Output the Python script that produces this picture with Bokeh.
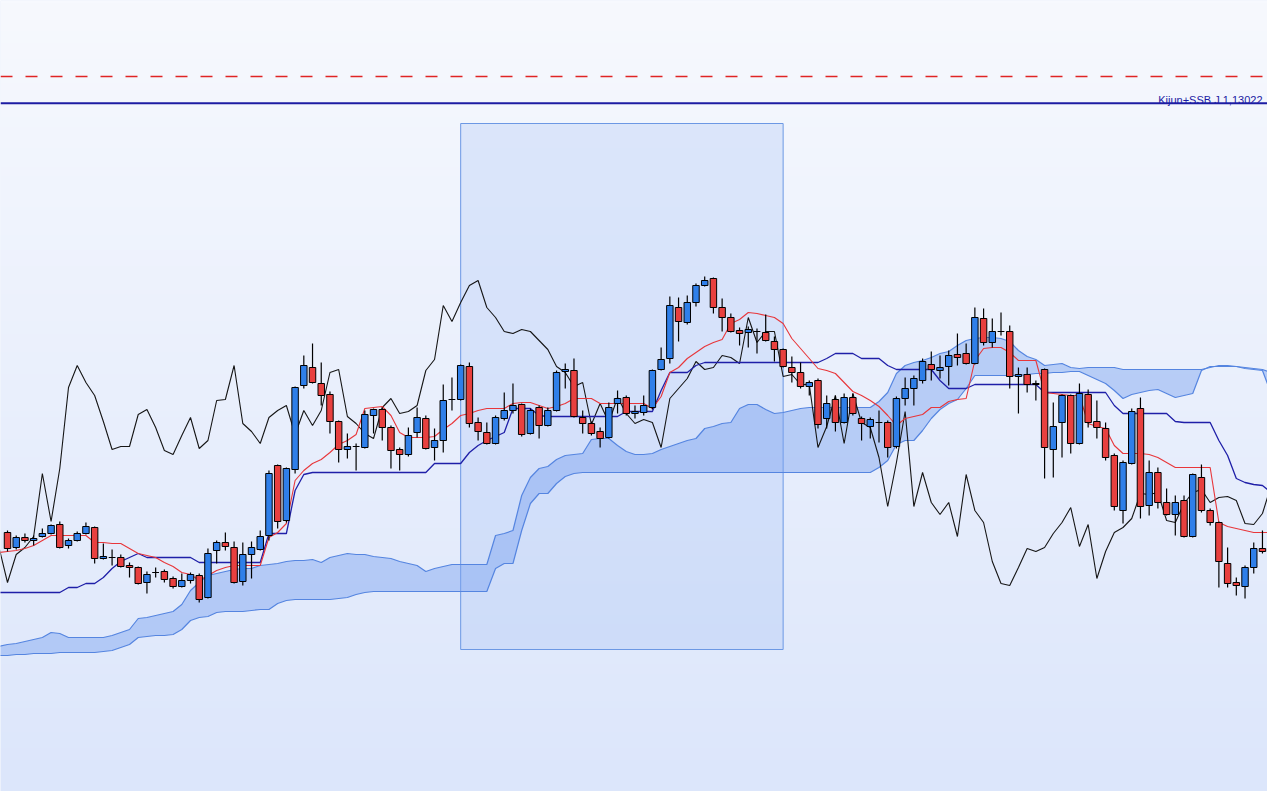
import numpy as np
from bokeh.plotting import figure
from bokeh.models import Range1d, Span, Label
from bokeh.embed import file_html
from bokeh.resources import INLINE

# ---------------- data (prices) ----------------
opens = [
    1.0873, 1.0858, 1.0868, 1.0865, 1.0869, 1.0872, 1.0881, 1.0860, 1.0865, 1.0872,
    1.0878, 1.0847, 1.0848, 1.0848, 1.0840, 1.0838, 1.0823, 1.0833, 1.0834, 1.0827,
    1.0819, 1.0825, 1.0830, 1.0808, 1.0855, 1.0863, 1.0858, 1.0824, 1.0851, 1.0856,
    1.0870, 1.0940, 1.0885, 1.0936, 1.1020, 1.1038, 1.1022, 1.1011, 1.0984, 1.0956,
    1.0959, 1.0958, 1.0990, 1.0996, 1.0978, 1.0956, 1.0951, 1.0973, 1.0987, 1.0958,
    1.0965, 1.1006, 1.1006, 1.1039, 1.0983, 1.0973, 1.0962, 1.0987, 1.0995, 1.1001,
    1.0972, 1.0998, 1.0980, 1.0995, 1.1034, 1.1035, 1.0988, 1.0982, 1.0974, 1.0968,
    1.1002, 1.1008, 1.0992, 1.0993, 1.0998, 1.1036, 1.1047, 1.1098, 1.1083, 1.1103,
    1.1120, 1.1127, 1.1098, 1.1088, 1.1075, 1.1073, 1.1074, 1.1073, 1.1064, 1.1056,
    1.1038, 1.1033, 1.1019, 1.1025, 1.0987, 1.1006, 1.0983, 1.1008, 1.0987, 1.0979,
    1.0983, 1.0983, 1.0959, 1.1007, 1.1017, 1.1025, 1.1041, 1.1035, 1.1039, 1.1051,
    1.1052, 1.1042, 1.1087, 1.1063, 1.1074, 1.1074, 1.1029, 1.1031, 1.1022, 1.1036,
    1.0956, 1.0983, 1.1010, 1.0962, 1.1011, 1.0984, 1.0977, 1.0950, 1.0895, 1.0942,
    1.0997, 1.0900, 1.0933, 1.0903, 1.0891, 1.0905, 1.0869, 1.0928, 1.0895, 1.0883,
    1.0842, 1.0823, 1.0819, 1.0838, 1.0857,
]
highs = [
    1.0875, 1.0870, 1.0872, 1.0870, 1.0877, 1.0881, 1.0884, 1.0867, 1.0874, 1.0883,
    1.0879, 1.0862, 1.0856, 1.0851, 1.0843, 1.0839, 1.0834, 1.0838, 1.0836, 1.0829,
    1.0832, 1.0833, 1.0832, 1.0857, 1.0865, 1.0873, 1.0864, 1.0863, 1.0864, 1.0875,
    1.0935, 1.0941, 1.0938, 1.1019, 1.1050, 1.1062, 1.1043, 1.1014, 1.0985, 1.0972,
    1.0962, 1.0995, 1.0997, 1.0998, 1.0980, 1.0958, 1.0978, 1.0998, 1.0990, 1.0977,
    1.1021, 1.1028, 1.1041, 1.1043, 1.0988, 1.0983, 1.0990, 1.1013, 1.1022, 1.1002,
    1.0997, 1.1000, 1.0998, 1.1035, 1.1042, 1.1047, 1.0995, 1.0984, 1.0978, 1.1003,
    1.1015, 1.1010, 1.1000, 1.1010, 1.1036, 1.1058, 1.1109, 1.1108, 1.1110, 1.1122,
    1.1129, 1.1128, 1.1107, 1.1092, 1.1078, 1.1079, 1.1077, 1.1091, 1.1069, 1.1057,
    1.1049, 1.1043, 1.1025, 1.1027, 1.1010, 1.1010, 1.1012, 1.1012, 1.0989, 1.0988,
    1.0995, 1.0985, 1.1009, 1.1028, 1.1030, 1.1047, 1.1054, 1.1050, 1.1055, 1.1072,
    1.1062, 1.1098, 1.1097, 1.1087, 1.1093, 1.1080, 1.1038, 1.1038, 1.1025, 1.1037,
    1.1003, 1.1011, 1.1011, 1.1022, 1.1016, 1.1005, 1.0983, 1.0952, 1.0945, 1.0997,
    1.1008, 1.0945, 1.0938, 1.0917, 1.0910, 1.0910, 1.0932, 1.0941, 1.0897, 1.0884,
    1.0858, 1.0828, 1.0840, 1.0863, 1.0875,
]
lows = [
    1.0854, 1.0856, 1.0863, 1.0860, 1.0868, 1.0871, 1.0857, 1.0857, 1.0864, 1.0871,
    1.0842, 1.0846, 1.0840, 1.0838, 1.0828, 1.0821, 1.0812, 1.0828, 1.0823, 1.0817,
    1.0818, 1.0822, 1.0803, 1.0807, 1.0842, 1.0855, 1.0822, 1.0820, 1.0827, 1.0855,
    1.0865, 1.0877, 1.0883, 1.0932, 1.1017, 1.1022, 1.1000, 1.0972, 1.0943, 1.0947,
    1.0935, 1.0957, 1.0972, 1.0965, 1.0937, 1.0935, 1.0949, 1.0968, 1.0956, 1.0945,
    1.0953, 1.0995, 1.1005, 1.0978, 1.0965, 1.0961, 1.0961, 1.0985, 1.0992, 1.0969,
    1.0971, 1.0967, 1.0979, 1.0994, 1.1017, 1.0988, 1.0972, 1.0970, 1.0958, 1.0967,
    1.0992, 1.0990, 1.0987, 1.0990, 1.0996, 1.1035, 1.1042, 1.1064, 1.1081, 1.1099,
    1.1119, 1.1092, 1.1074, 1.1073, 1.1060, 1.1058, 1.1052, 1.1064, 1.1044, 1.1038,
    1.1023, 1.1017, 1.1010, 1.0977, 1.0977, 1.0974, 1.0982, 1.0990, 1.0965, 1.0967,
    1.0963, 1.0948, 1.0957, 1.1000, 1.1000, 1.1022, 1.1025, 1.1027, 1.1020, 1.1040,
    1.1041, 1.1041, 1.1060, 1.1058, 1.1070, 1.1017, 1.0992, 1.1013, 1.1005, 1.0927,
    1.0928, 1.0948, 1.0952, 1.0961, 1.0978, 1.0967, 1.0945, 1.0895, 1.0882, 1.0941,
    1.0887, 1.0890, 1.0897, 1.0890, 1.0870, 1.0868, 1.0868, 1.0893, 1.0880, 1.0818,
    1.0818, 1.0810, 1.0807, 1.0832, 1.0852,
]
closes = [
    1.0857, 1.0868, 1.0865, 1.0867, 1.0872, 1.0880, 1.0858, 1.0865, 1.0872, 1.0879,
    1.0847, 1.0849, 1.0848, 1.0839, 1.0838, 1.0822, 1.0831, 1.0833, 1.0826, 1.0819,
    1.0825, 1.0831, 1.0806, 1.0852, 1.0863, 1.0859, 1.0823, 1.0851, 1.0858, 1.0869,
    1.0932, 1.0884, 1.0937, 1.1018, 1.1040, 1.1023, 1.1010, 1.0984, 1.0956, 1.0959,
    1.0959, 1.0991, 1.0996, 1.0978, 1.0955, 1.0951, 1.0970, 1.0988, 1.0957, 1.0965,
    1.1005, 1.1006, 1.1040, 1.0982, 1.0974, 1.0962, 1.0988, 1.0995, 1.1000, 1.0971,
    1.0995, 1.0980, 1.0995, 1.1033, 1.1036, 1.0989, 1.0982, 1.0972, 1.0967, 1.0998,
    1.1007, 1.0992, 1.0994, 1.1000, 1.1035, 1.1046, 1.1100, 1.1084, 1.1103, 1.1120,
    1.1125, 1.1098, 1.1088, 1.1074, 1.1072, 1.1076, 1.1074, 1.1065, 1.1056, 1.1039,
    1.1033, 1.1019, 1.1023, 1.0981, 1.1002, 1.0983, 1.1008, 1.0992, 1.0982, 1.0986,
    1.0983, 1.0958, 1.1007, 1.1017, 1.1027, 1.1044, 1.1036, 1.1038, 1.1050, 1.1048,
    1.1042, 1.1088, 1.1063, 1.1074, 1.1074, 1.1029, 1.1031, 1.1021, 1.1021, 1.0958,
    1.0979, 1.1010, 1.0962, 1.1012, 1.0983, 1.0978, 1.0948, 1.0899, 1.0943, 1.0994,
    1.0899, 1.0933, 1.0903, 1.0891, 1.0903, 1.0869, 1.0931, 1.0895, 1.0883, 1.0844,
    1.0822, 1.0820, 1.0838, 1.0857, 1.0854,
]
# indicator lines: first value sits one bar left of the first candle (chart edge)
tenkan = [
    1.0853,
    1.0854, 1.0855, 1.0857, 1.0860, 1.0865, 1.0870, 1.0870, 1.0870, 1.0870, 1.0870,
    1.0863, 1.0863, 1.0862, 1.0862, 1.0857, 1.0852, 1.0850, 1.0848, 1.0843, 1.0839,
    1.0833, 1.0831, 1.0825, 1.0830, 1.0835, 1.0838, 1.0840, 1.0840, 1.0840, 1.0840,
    1.0868, 1.0873, 1.0882, 1.0925, 1.0935, 1.0942, 1.0946, 1.0953, 1.0961, 1.0965,
    1.0971, 1.0997, 1.0998, 1.0999, 1.0990, 1.0973, 1.0968, 1.0968, 1.0968, 1.0969,
    1.0976, 1.0982, 1.0990, 1.0992, 1.0995, 1.0997, 1.0997, 1.0997, 1.1002, 1.1003,
    1.1003, 1.1000, 1.0997, 1.0999, 1.1002, 1.1007, 1.1007, 1.1007, 1.1002, 1.1002,
    1.1002, 1.1002, 1.1002, 1.1002, 1.0997, 1.1009, 1.1033, 1.1038, 1.1047, 1.1053,
    1.1059, 1.1063, 1.1066, 1.1082, 1.1086, 1.1093, 1.1092, 1.1090, 1.1088, 1.1082,
    1.1067, 1.1057, 1.1047, 1.1037, 1.1035, 1.1032, 1.1023, 1.1014, 1.1010, 1.1005,
    1.0999, 1.0990, 1.0980, 1.0987, 1.0989, 1.0991, 1.0998, 1.0998, 1.1004, 1.1006,
    1.1007, 1.1045, 1.1057, 1.1058, 1.1058, 1.1053, 1.1045, 1.1045, 1.1045, 1.1013,
    1.1012, 1.1011, 1.1010, 1.1010, 1.0982, 1.0979, 1.0977, 1.0960, 1.0952, 1.0952,
    1.0952, 1.0951, 1.0948, 1.0943, 1.0938, 1.0938, 1.0938, 1.0938, 1.0938, 1.0883,
    1.0879, 1.0877, 1.0875, 1.0873, 1.0873, 1.0873,
]
kijun = [
    1.0813,
    1.0813, 1.0813, 1.0813, 1.0813, 1.0813, 1.0813, 1.0813, 1.0818, 1.0818, 1.0822,
    1.0822, 1.0828, 1.0837, 1.0844, 1.0848, 1.0852, 1.0848, 1.0848, 1.0848, 1.0848,
    1.0848, 1.0848, 1.0843, 1.0843, 1.0843, 1.0843, 1.0843, 1.0843, 1.0843, 1.0843,
    1.0872, 1.0872, 1.0872, 1.0915, 1.0931, 1.0933, 1.0933, 1.0933, 1.0933, 1.0933,
    1.0933, 1.0933, 1.0933, 1.0933, 1.0933, 1.0933, 1.0933, 1.0933, 1.0933, 1.0942,
    1.0942, 1.0942, 1.0942, 1.0953, 1.0960, 1.0965, 1.0969, 1.0973, 1.0997, 1.0997,
    1.0997, 1.0990, 1.0989, 1.0989, 1.0989, 1.0989, 1.0989, 1.0989, 1.0989, 1.0989,
    1.0989, 1.0994, 1.0994, 1.0994, 1.0994, 1.1015, 1.1033, 1.1033, 1.1033, 1.1040,
    1.1043, 1.1043, 1.1043, 1.1043, 1.1043, 1.1043, 1.1043, 1.1043, 1.1043, 1.1043,
    1.1043, 1.1043, 1.1043, 1.1043, 1.1047, 1.1052, 1.1052, 1.1052, 1.1047, 1.1047,
    1.1047, 1.1040, 1.1036, 1.1036, 1.1036, 1.1036, 1.1036, 1.1025, 1.1017, 1.1017,
    1.1017, 1.1021, 1.1021, 1.1021, 1.1021, 1.1021, 1.1021, 1.1021, 1.1021, 1.1013,
    1.1013, 1.1013, 1.1013, 1.1013, 1.1013, 1.1013, 1.1013, 1.1000, 1.0992, 1.0992,
    1.0992, 1.0992, 1.0992, 1.0992, 1.0984, 1.0983, 1.0983, 1.0983, 1.0983, 1.0965,
    1.0950, 1.0927, 1.0923, 1.0921, 1.0920, 1.0913,
]
span_a = [
    1.0759,
    1.0761, 1.0762, 1.0764, 1.0766, 1.0768, 1.0773, 1.0772, 1.0768, 1.0768, 1.0768,
    1.0768, 1.0768, 1.0770, 1.0773, 1.0776, 1.0787, 1.0788, 1.0790, 1.0792, 1.0794,
    1.0801, 1.0815, 1.0823, 1.0830, 1.0832, 1.0834, 1.0836, 1.0837, 1.0837, 1.0840,
    1.0841, 1.0842, 1.0844, 1.0845, 1.0845, 1.0846, 1.0843, 1.0848, 1.0850, 1.0852,
    1.0851, 1.0851, 1.0849, 1.0848, 1.0847, 1.0844, 1.0842, 1.0840, 1.0834, 1.0837,
    1.0839, 1.0841, 1.0841, 1.0841, 1.0841, 1.0841, 1.0870, 1.0872, 1.0875, 1.0910,
    1.0928, 1.0937, 1.0939, 1.0946, 1.0950, 1.0951, 1.0952, 1.0966, 1.0967, 1.0967,
    1.0960, 1.0954, 1.0951, 1.0951, 1.0952, 1.0956, 1.0959, 1.0962, 1.0965, 1.0967,
    1.0977, 1.0979, 1.0982, 1.0983, 1.0997, 1.1001, 1.1001, 1.0996, 1.0992, 1.0993,
    1.0995, 1.0997, 1.0998, 1.0998, 1.0998, 1.0998, 1.0998, 1.0998, 1.0998, 1.0998,
    1.1004, 1.1013, 1.1032, 1.1040, 1.1043, 1.1045, 1.1048, 1.1052, 1.1054, 1.1060,
    1.1065, 1.1067, 1.1068, 1.1068, 1.1067, 1.1064, 1.1055, 1.1049, 1.1046, 1.1040,
    1.1041, 1.1042, 1.1038, 1.1037, 1.1038, 1.1038, 1.1038, 1.1038, 1.1036, 1.1036,
    1.1036, 1.1036, 1.1036, 1.1036, 1.1036, 1.1036, 1.1036, 1.1036, 1.1038, 1.1040,
    1.1040, 1.1039, 1.1037, 1.1036, 1.1035, 1.1012,
]
span_b = [
    1.0750,
    1.0750, 1.0751, 1.0751, 1.0752, 1.0752, 1.0752, 1.0753, 1.0753, 1.0753, 1.0753,
    1.0753, 1.0754, 1.0755, 1.0758, 1.0761, 1.0768, 1.0769, 1.0770, 1.0770, 1.0771,
    1.0776, 1.0785, 1.0788, 1.0789, 1.0793, 1.0794, 1.0794, 1.0794, 1.0795, 1.0796,
    1.0796, 1.0802, 1.0805, 1.0806, 1.0806, 1.0806, 1.0806, 1.0806, 1.0807, 1.0808,
    1.0811, 1.0813, 1.0814, 1.0814, 1.0814, 1.0814, 1.0814, 1.0814, 1.0814, 1.0814,
    1.0814, 1.0814, 1.0814, 1.0814, 1.0814, 1.0814, 1.0837, 1.0842, 1.0842, 1.0875,
    1.0902, 1.0912, 1.0912, 1.0922, 1.0929, 1.0932, 1.0933, 1.0933, 1.0933, 1.0933,
    1.0933, 1.0933, 1.0933, 1.0933, 1.0933, 1.0933, 1.0933, 1.0933, 1.0933, 1.0933,
    1.0933, 1.0933, 1.0933, 1.0933, 1.0933, 1.0933, 1.0933, 1.0933, 1.0933, 1.0933,
    1.0933, 1.0933, 1.0933, 1.0933, 1.0933, 1.0933, 1.0933, 1.0933, 1.0933, 1.0933,
    1.0938, 1.0945, 1.0961, 1.0965, 1.0965, 1.0975, 1.0987, 1.0996, 1.1002, 1.1006,
    1.1017, 1.1030, 1.1030, 1.1030, 1.1030, 1.1030, 1.1030, 1.1031, 1.1032, 1.1032,
    1.1033, 1.1033, 1.1034, 1.1034, 1.1030, 1.1026, 1.1022, 1.1015, 1.1007, 1.1011,
    1.1013, 1.1015, 1.1016, 1.1012, 1.1008, 1.1010, 1.1012, 1.1035, 1.1039, 1.1039,
    1.1039, 1.1039, 1.1038, 1.1037, 1.1036, 1.1033,
]
# lagging line beyond the last visible candle (closes not shown on the chart)
chikou_future = [
    1.0858, 1.0872, 1.0883, 1.0898, 1.0859, 1.0881, 1.0827, 1.0854, 1.0873, 1.0878,
    1.0887, 1.0912, 1.0911, 1.0913, 1.0885, 1.0883, 1.0902, 1.0913, 1.0916, 1.0903,
    1.0908, 1.0909, 1.0905, 1.0882, 1.0881, 1.0892, 1.0920,
]
chikou_shift = 26
box_left, box_right = 52, 89
box_top, box_bottom = 1.1282, 1.0756
level_solid = 1.13022
level_dashed = 1.1329
level_label = "Kijun+SSB J 1,13022"

# ---------------- figure ----------------
W, H = 1267, 791
PX_PER_BAR = 8.715
FIRST_BAR_PX = 7
X0 = (0 - FIRST_BAR_PX) / PX_PER_BAR
X1 = (W - FIRST_BAR_PX) / PX_PER_BAR
Y1 = 1.1405
Y0 = 1.1405 - H / 10000.0

p = figure(width=W, height=H, x_range=Range1d(X0, X1), y_range=Range1d(Y0, Y1),
           output_backend="svg", toolbar_location=None,
           x_axis_location=None, y_axis_location=None, min_border=0)
p.grid.visible = False
p.outline_line_color = None
p.background_fill_color = "#e6edfc"
p.border_fill_color = "#e6edfc"

# vertical background gradient
rows = 256
t = np.linspace(0.0, 1.0, rows)[:, None]  # 0 = bottom, 1 = top
bottom_rgb = np.array([220, 230, 251])
top_rgb = np.array([247, 249, 254])
rgb = bottom_rgb + (top_rgb - bottom_rgb) * t
img = np.zeros((rows, 2, 4), dtype=np.uint8)
img[:, :, 0] = rgb[:, 0:1].astype(np.uint8)
img[:, :, 1] = rgb[:, 1:2].astype(np.uint8)
img[:, :, 2] = rgb[:, 2:3].astype(np.uint8)
img[:, :, 3] = 255
p.image_rgba(image=[img.view(dtype=np.uint32).reshape((rows, 2))],
             x=X0, y=Y0, dw=X1 - X0, dh=Y1 - Y0)

# highlighted box
p.quad(left=[box_left], right=[box_right], top=[box_top], bottom=[box_bottom],
       fill_color="#96b9f5", fill_alpha=0.25, line_color="#6c98e4", line_width=1)

# cloud
line_x = list(range(-1, len(span_a) - 1))
p.varea(x=line_x, y1=span_a, y2=span_b, fill_color="#7aa2f0", fill_alpha=0.45)
p.line(line_x, span_a, line_color="#5585e0", line_width=1.2)
p.line(line_x, span_b, line_color="#5585e0", line_width=1.2)

# chikou / kijun / tenkan
chikou = closes[chikou_shift - 1:] + chikou_future
p.line(list(range(-1, len(chikou) - 1)), chikou, line_color="#151515", line_width=1.1)
p.line(list(range(-1, len(kijun) - 1)), kijun, line_color="#1f1fa8", line_width=1.3)
p.line(list(range(-1, len(tenkan) - 1)), tenkan, line_color="#e8363a", line_width=1.1)

# candles
idx = list(range(len(opens)))
tops = [max(o, c) for o, c in zip(opens, closes)]
bots = [min(o, c) for o, c in zip(opens, closes)]
cols = ["#2f7fe9" if c > o else "#e8403f" for o, c in zip(opens, closes)]
p.segment(x0=idx, y0=lows, x1=idx, y1=highs, line_color="black", line_width=1.2)
p.vbar(x=idx, width=0.74, top=tops, bottom=bots, fill_color=cols,
       line_color="black", line_width=1)

# horizontal levels
p.add_layout(Span(location=level_dashed, dimension="width", line_color="#e02424",
                  line_width=1.6, line_dash="12 13"))
p.add_layout(Span(location=level_solid, dimension="width", line_color="#1c1ca3",
                  line_width=2))
p.add_layout(Label(x=(1262 - FIRST_BAR_PX) / PX_PER_BAR, y=level_solid + 0.00035,
                   text=level_label, text_align="right", text_baseline="alphabetic",
                   text_font="Liberation Sans", text_font_size="11px",
                   text_color="#1c1ca3"))

open("out.html", "w").write(file_html(p, INLINE))
